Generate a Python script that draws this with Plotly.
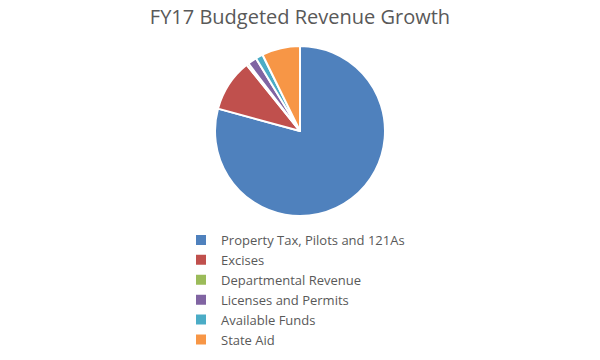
import plotly.graph_objects as go

categories = ["Property Tax, Pilots and 121As", "Excises", "Departmental Revenue",
              "Licenses and Permits", "Available Funds", "State Aid"]
values = [78.6, 9.9, 0.4, 1.7, 1.4, 7.2]
colors = ["#4F81BD", "#C0504D", "#9BBB59", "#8064A2", "#4BACC6", "#F79646"]

fig = go.Figure(go.Pie(
    labels=categories, values=values, sort=False, direction="clockwise",
    rotation=0, textinfo="none",
    marker=dict(colors=colors, line=dict(color="white", width=2)),
    domain=dict(x=[0, 1], y=[1 - 216/360, 1 - 46/360]),
))
fig.update_layout(
    width=600, height=360,
    margin=dict(l=0, r=0, t=0, b=0),
    paper_bgcolor="white",
    title=dict(text="FY17 Budgeted Revenue Growth", x=0.5, xanchor="center",
               y=1 - 17/360, yanchor="middle",
               font=dict(family="Open Sans, sans-serif", size=20, color="#595959")),
    legend=dict(x=181/600, xanchor="left", y=1 - 225/360, yanchor="top",
                font=dict(family="Open Sans, sans-serif", size=13, color="#595959"),
                tracegroupgap=0, itemwidth=30),
    showlegend=True,
)
fig.write_html("out.html", config={"displayModeBar": False},
               post_script="document.body.style.margin='0';")
